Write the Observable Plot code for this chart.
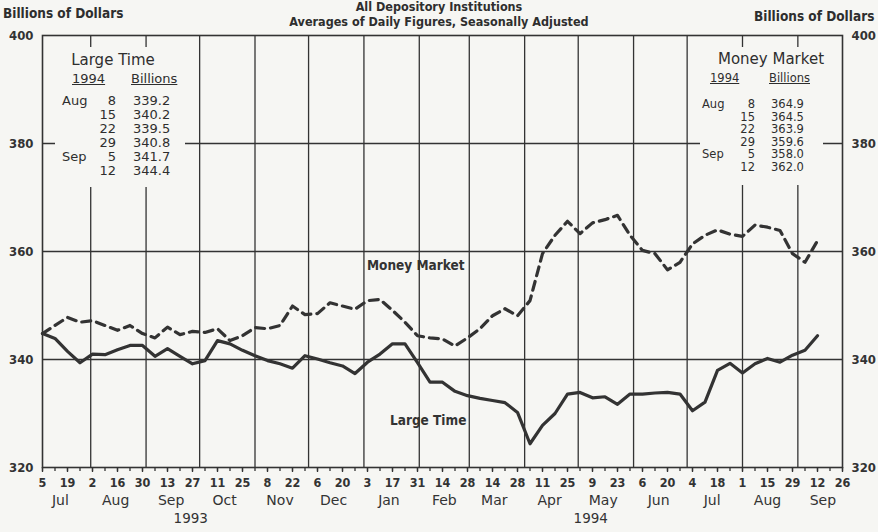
<!DOCTYPE html>
<html><head><meta charset="utf-8">
<script src="https://cdn.jsdelivr.net/npm/d3@7"></script>
<script src="https://cdn.jsdelivr.net/npm/@observablehq/plot@0.6"></script>
<style>
body{margin:0;background:#f6f6f3;}
#wrap{position:relative;width:878px;height:532px;overflow:hidden;font-family:"DejaVu Sans",sans-serif;color:#2e2e2e;}
.abs{position:absolute;white-space:nowrap;line-height:1;}
.cond{font-family:"DejaVu Sans Condensed",sans-serif;font-weight:bold;}
.box{position:absolute;background:#f6f6f3;}
#wrap svg{position:absolute;left:0;top:0;}
</style></head><body><div id="wrap"></div>
<script>
// ---- data ----
const weekStart = new Date(Date.UTC(1993, 6, 5)); // Monday Jul 5 1993, weekly observations
const largeTime = [344.8, 343.9, 341.5, 339.4, 341.0, 340.9, 341.8, 342.6, 342.6, 340.6,
  342.0, 340.6, 339.2, 339.8, 343.5, 342.9, 341.7, 340.7, 339.8, 339.2,
  338.4, 340.7, 340.1, 339.4, 338.8, 337.4, 339.5, 341.0, 342.9, 342.9,
  339.4, 335.8, 335.8, 334.1, 333.3, 332.8, 332.4, 332.0, 330.2, 324.4,
  327.8, 330.0, 333.6, 333.9, 332.9, 333.1, 331.7, 333.6, 333.6, 333.8,
  333.9, 333.6, 330.5, 332.1, 338.0, 339.3, 337.5, 339.2, 340.2, 339.5,
  340.8, 341.7, 344.4];
const moneyMarket = [344.8, 346.3, 347.8, 346.9, 347.2, 346.3, 345.4, 346.3, 344.8, 344.0,
  346.0, 344.6, 345.2, 345.0, 345.7, 343.5, 344.4, 345.9, 345.7, 346.3,
  349.9, 348.3, 348.5, 350.5, 349.9, 349.3, 350.9, 351.1, 349.1, 346.9,
  344.4, 344.0, 343.8, 342.5, 344.0, 345.7, 348.1, 349.4, 348.1, 350.9,
  359.6, 363.0, 365.6, 363.3, 365.3, 365.9, 366.7, 363.0, 360.2, 359.6,
  356.6, 358.0, 361.4, 363.0, 364.0, 363.2, 362.8, 364.9, 364.5, 363.9,
  359.6, 358.0, 362.0];
const yTicks = [320, 340, 360, 380, 400];
const yGrid = [340, 360, 380];
const tableMonths = ["Aug", "", "", "", "Sep", ""];
const tableDays = [8, 15, 22, 29, 5, 12];
const yearLabels = [{label: "1993", date: new Date(Date.UTC(1993, 8, 26))},
                    {label: "1994", date: new Date(Date.UTC(1994, 4, 8))}];
const seriesLabels = [{label: "Money Market", date: new Date(Date.UTC(1994, 0, 30)), value: 357.4},
                      {label: "Large Time", date: new Date(Date.UTC(1994, 1, 6)), value: 328.7}];

const xStart = weekStart, xEnd = new Date(Date.UTC(1994, 8, 26));
const dates = largeTime.map((_, i) => d3.utcDay.offset(weekStart, 7 * i));
const rows = dates.flatMap((d, i) => [
  {date: d, value: largeTime[i], series: "Large Time"},
  {date: d, value: moneyMarket[i], series: "Money Market"}]);
const weekly = d3.utcDay.range(xStart, d3.utcDay.offset(xEnd, 1), 7);
const biweekly = d3.utcDay.range(xStart, d3.utcDay.offset(xEnd, 1), 14);
const monthStarts = d3.utcMonth.range(new Date(Date.UTC(1993, 7, 1)), new Date(Date.UTC(1994, 9, 1)));
const monthMids = d3.utcMonth.range(new Date(Date.UTC(1993, 6, 1)), new Date(Date.UTC(1994, 9, 1)))
  .map(d => d3.utcDay.offset(d, 14));

const ink = "#333";
const condFont = "DejaVu Sans Condensed, sans-serif";

const plot = Plot.plot({
  width: 878, height: 532,
  marginTop: 35, marginBottom: 65, marginLeft: 42, marginRight: 36,
  style: {background: "transparent", color: ink, fontFamily: condFont},
  x: {type: "utc", domain: [xStart, xEnd]},
  y: {domain: [320, 400]},
  marks: [
    Plot.ruleX(monthStarts, {stroke: ink, strokeWidth: 1.3}),
    Plot.ruleY(yGrid, {stroke: ink, strokeWidth: 1.3}),
    Plot.frame({stroke: ink, strokeWidth: 1.6}),
    Plot.axisY({anchor: "left", ticks: yTicks, tickSize: 0, tickPadding: 9, tickFormat: d => d,
      fontSize: 13, fontWeight: "bold", fontFamily: condFont, label: null}),
    Plot.axisY({anchor: "right", ticks: yTicks, tickSize: 0, tickPadding: 9, tickFormat: d => d,
      fontSize: 13, fontWeight: "bold", fontFamily: condFont, label: null}),
    Plot.axisX({ticks: weekly, tickSize: 4, tickFormat: () => "", strokeWidth: 1.3, label: null}),
    Plot.axisX({ticks: biweekly, tickSize: 5, tickPadding: 6, tickFormat: d => d.getUTCDate(),
      fontSize: 12.5, fontWeight: "bold", fontFamily: condFont, strokeWidth: 1.3, label: null}),
    Plot.axisX({ticks: monthMids, tickSize: 0, tickPadding: 28, tickFormat: d3.utcFormat("%b"),
      fontSize: 14, fontFamily: "DejaVu Sans, sans-serif", label: null}),
    Plot.text(yearLabels, {x: "date", text: "label", frameAnchor: "bottom", dy: 55,
      fontSize: 13.5, fontFamily: "DejaVu Sans, sans-serif", fill: ink}),
    Plot.line(rows.filter(d => d.series === "Large Time"), {x: "date", y: "value",
      stroke: ink, strokeWidth: 3.2, strokeLinejoin: "round"}),
    Plot.line(rows.filter(d => d.series === "Money Market"), {x: "date", y: "value",
      stroke: ink, strokeWidth: 3.2, strokeDasharray: "9,6", strokeLinejoin: "round"}),
    Plot.text(seriesLabels, {x: "date", y: "value", text: "label", fontSize: 13.5,
      fontWeight: "bold", fontFamily: condFont, fill: ink})
  ]
});

const wrap = document.getElementById("wrap");
wrap.appendChild(plot);

function addText(txt, css, cls) {
  const el = document.createElement("div");
  el.className = "abs " + (cls || "");
  el.textContent = txt;
  Object.assign(el.style, css);
  wrap.appendChild(el);
  return el;
}
// header texts
addText("Billions of Dollars", {left: "3px", top: "7px", fontSize: "13.5px"}, "cond");
addText("Billions of Dollars", {left: "754px", top: "10px", fontSize: "13.5px"}, "cond");
addText("All Depository Institutions", {left: "0", width: "878px", textAlign: "center", top: "1px",
  fontSize: "12.5px", fontFamily: condFont, fontWeight: "bold"});
addText("Averages of Daily Figures, Seasonally Adjusted", {left: "0", width: "878px", textAlign: "center",
  top: "16px", fontSize: "12.5px", fontFamily: condFont, fontWeight: "bold"});

// inset tables
function makeTable(cfg) {
  const box = document.createElement("div");
  box.className = "box";
  Object.assign(box.style, {left: cfg.left + "px", top: cfg.top + "px", width: cfg.w + "px", height: cfg.h + "px"});
  wrap.appendChild(box);
  const put = (txt, css) => {
    const el = document.createElement("div");
    el.className = "abs";
    el.textContent = txt;
    Object.assign(el.style, {fontSize: cfg.fs + "px", lineHeight: cfg.rowStep + "px"}, css);
    box.appendChild(el);
  };
  put(cfg.title, {left: "0", width: cfg.titleW + "px", textAlign: "center", top: cfg.titleTop + "px",
    fontSize: "15px", lineHeight: "15px"});
  put("1994", {left: cfg.yearX + "px", top: cfg.headTop + "px", textDecoration: "underline"});
  put("Billions", {left: cfg.valX - 2 + "px", top: cfg.headTop + "px", textDecoration: "underline"});
  cfg.values.forEach((v, i) => {
    const t = cfg.rowTop + i * cfg.rowStep;
    if (tableMonths[i]) put(tableMonths[i], {left: cfg.monX + "px", top: t + "px"});
    put(String(tableDays[i]), {left: (cfg.dayR - 18) + "px", width: "18px", textAlign: "right", top: t + "px"});
    put(v.toFixed(1), {left: cfg.valX + "px", top: t + "px"});
  });
}
makeTable({title: "Large Time", left: 55, top: 47, w: 130, h: 140, titleW: 116, titleTop: 6, fs: 13,
  yearX: 17, headTop: 25, monX: 7, dayR: 61, valX: 78, rowTop: 47, rowStep: 14,
  values: largeTime.slice(-6)});
makeTable({title: "Money Market", left: 700, top: 47, w: 123, h: 138, titleW: 142, titleTop: 5, fs: 11.5,
  yearX: 10, headTop: 25, monX: 2, dayR: 55, valX: 71, rowTop: 51, rowStep: 12.5,
  values: moneyMarket.slice(-6)});
</script></body></html>
